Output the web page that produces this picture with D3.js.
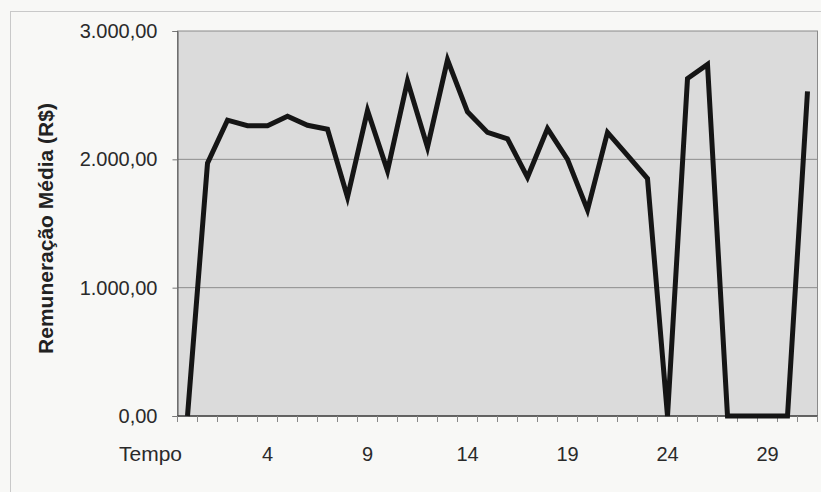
<!DOCTYPE html>
<html>
<head>
<meta charset="utf-8">
<script src="https://cdn.jsdelivr.net/npm/d3@7"></script>
<style>
  html, body { margin: 0; padding: 0; background: #f8f8f6; }
  svg { display: block; font-family: "Liberation Sans", Arial, sans-serif; }
</style>
</head>
<body>
<svg id="chart" width="821" height="492"></svg>
<script>
// ---- data ----
const periods = d3.range(0, 32); // category indices (Tempo)
const remuneracao = [
  0, 1970, 2305, 2262, 2262, 2335, 2265, 2235, 1705, 2380,
  1910, 2610, 2095, 2775, 2370, 2210, 2160, 1860, 2240, 2000,
  1605, 2210, 2030, 1850, 0, 2630, 2740, 0, 0, 0,
  0, 2530
];
const xTickLabels = [4, 9, 14, 19, 24, 29];
const yTicks = [0, 1000, 2000, 3000];
const xTitle = "Tempo";
const yTitle = "Remuneração Média (R$)";

// ---- layout ----
const svg = d3.select("#chart");
const plot = { left: 177.5, right: 817.5, top: 31, bottom: 416 };

const x = d3.scaleBand().domain(periods).range([plot.left, plot.right]).padding(0);
const y = d3.scaleLinear().domain([0, 3000]).range([plot.bottom, plot.top]);
const fmt = v => d3.format(",.2f")(v).replace(/,/g, "#").replace(/\./g, ",").replace(/#/g, ".");

// outer chart border
svg.append("rect")
  .attr("x", 10.5).attr("y", 11.5).attr("width", 830).attr("height", 520)
  .attr("fill", "none").attr("stroke", "#c9c9c9").attr("stroke-width", 1);

// plot area
svg.append("rect")
  .attr("x", plot.left).attr("y", plot.top)
  .attr("width", plot.right - plot.left).attr("height", plot.bottom - plot.top)
  .attr("fill", "#dbdbdb").attr("stroke", "#8a8a8a").attr("stroke-width", 1);

// gridlines
svg.append("g").selectAll("line")
  .data(yTicks.filter(d => d > 0 && d < 3000))
  .join("line")
  .attr("x1", plot.left).attr("x2", plot.right)
  .attr("y1", d => y(d)).attr("y2", d => y(d))
  .attr("stroke", "#8c8c8c").attr("stroke-width", 1);

// y axis
const yAxis = svg.append("g")
  .attr("transform", `translate(${plot.left},0)`)
  .call(d3.axisLeft(y).tickValues(yTicks).tickFormat(fmt).tickSize(5).tickPadding(15));
yAxis.select(".domain").attr("stroke", "#555");
yAxis.selectAll(".tick line").attr("stroke", "#777");
yAxis.selectAll(".tick text")
  .attr("font-size", 20).attr("fill", "#2a2a2a")
  .attr("font-family", "'Liberation Sans', Arial, sans-serif");

// x axis baseline and ticks at band boundaries
const boundaries = periods.map(d => x(d)).concat([plot.right]);
svg.append("line")
  .attr("x1", plot.left).attr("x2", plot.right)
  .attr("y1", plot.bottom).attr("y2", plot.bottom)
  .attr("stroke", "#444").attr("stroke-width", 1.5);
svg.append("g").selectAll("line")
  .data(boundaries)
  .join("line")
  .attr("x1", d => d).attr("x2", d => d)
  .attr("y1", plot.bottom).attr("y2", plot.bottom + 6)
  .attr("stroke", "#888").attr("stroke-width", 1);

// x tick labels
svg.append("g").selectAll("text")
  .data(xTickLabels)
  .join("text")
  .attr("x", d => x(d) + x.bandwidth() / 2)
  .attr("y", 461)
  .attr("text-anchor", "middle")
  .attr("font-size", 20).attr("fill", "#2a2a2a")
  .text(d => d);

// x title ("Tempo")
svg.append("text")
  .attr("x", 182).attr("y", 461)
  .attr("text-anchor", "end")
  .attr("font-size", 21).attr("fill", "#2a2a2a")
  .text(xTitle);

// y title
svg.append("text")
  .attr("transform", `translate(53, ${(plot.top + plot.bottom) / 2 + 5}) rotate(-90)`)
  .attr("text-anchor", "middle")
  .attr("font-size", 21).attr("font-weight", "bold").attr("fill", "#222")
  .text(yTitle);

// line
const line = d3.line()
  .x((d, i) => x(periods[i]) + x.bandwidth() / 2)
  .y(d => y(d));
svg.append("path")
  .datum(remuneracao)
  .attr("d", line)
  .attr("fill", "none")
  .attr("stroke", "#151515")
  .attr("stroke-width", 5)
  .attr("stroke-linejoin", "miter")
  .attr("stroke-miterlimit", 6);
</script>
</body>
</html>
